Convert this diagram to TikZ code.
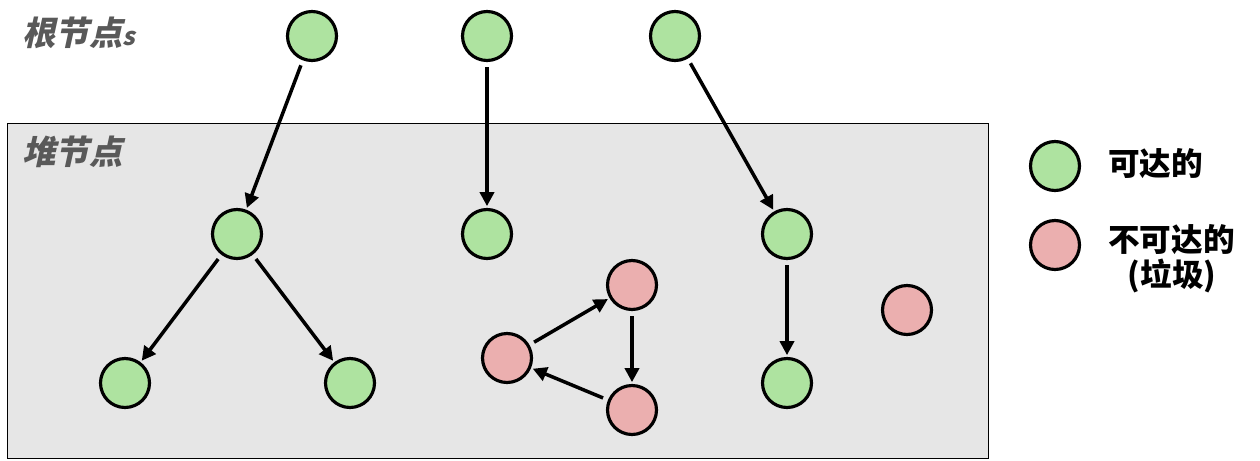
\documentclass[tikz,border=0pt]{standalone}
\usepackage{fontspec}
\newfontfamily\cjk{Noto Sans CJK SC}
\newfontfamily\cjksl{Noto Sans CJK SC}[FakeSlant=0.22]
\usetikzlibrary{arrows.meta}
\definecolor{reach}{HTML}{AEE3A0}
\definecolor{unreach}{HTML}{EBAFAF}
\definecolor{heapbg}{HTML}{E6E6E6}
\definecolor{labelgray}{HTML}{595959}
\begin{document}
\begin{tikzpicture}[x=0.02cm,y=-0.02cm,
  obj/.style={circle,draw=black,line width=1.8pt,minimum size=0.98cm,inner sep=0pt},
  good/.style={obj,fill=reach},
  bad/.style={obj,fill=unreach},
  ptr/.style={line width=2pt,-{Triangle[length=8pt,width=8pt]},shorten >=1pt,shorten <=3pt},
  lbl/.style={font=\cjksl\bfseries\fontsize{19}{22}\selectfont,text=labelgray,inner sep=0pt},
  leg/.style={font=\cjk\bfseries\fontsize{18}{22}\selectfont,inner sep=0pt,align=center}]
\useasboundingbox (0,0) rectangle (1260,460);
\node[draw=black,line width=0.6pt,fill=heapbg,minimum width=19.62cm,minimum height=6.7cm,anchor=north west,inner sep=0pt] (heap) at (7,123) {};
\node[lbl,anchor=west] (rootlbl) at (22,33) {根节点{\fontsize{14}{16}\selectfont s}};
\node[lbl,anchor=west] (heaplbl) at (22,152) {堆节点};
% roots
\node[good] (r1) at (312,36) {};
\node[good] (r2) at (487,36) {};
\node[good] (r3) at (675,36) {};
% heap
\node[good] (a) at (237,234) {};
\node[good] (b) at (487,234) {};
\node[good] (c) at (787,234) {};
\node[good] (a1) at (125,383) {};
\node[good] (a2) at (350,383) {};
\node[good] (c1) at (787,383) {};
\node[bad] (p1) at (632,285) {};
\node[bad] (p2) at (507,358) {};
\node[bad] (p3) at (632,410) {};
\node[bad] (p4) at (907,310) {};
% edges
\draw[ptr] (r1) -- (a);
\draw[ptr] (r2) -- (b);
\draw[ptr] (r3) -- (c);
\draw[ptr] (a) -- (a1);
\draw[ptr] (a) -- (a2);
\draw[ptr] (c) -- (c1);
\draw[ptr] (p2) -- (p1);
\draw[ptr] (p1) -- (p3);
\draw[ptr] (p3) -- (p2);
% legend
\node[good] (lg) at (1055,166) {};
\node[bad] (lb) at (1055,245) {};
\node[leg,anchor=west] (lgt) at (1108,164) {可达的};
\node[leg,anchor=west] (lbt) at (1108,240) {不可达的};
\node[leg] (lbt2) at (1172,276) {(垃圾)};
\end{tikzpicture}
\end{document}
